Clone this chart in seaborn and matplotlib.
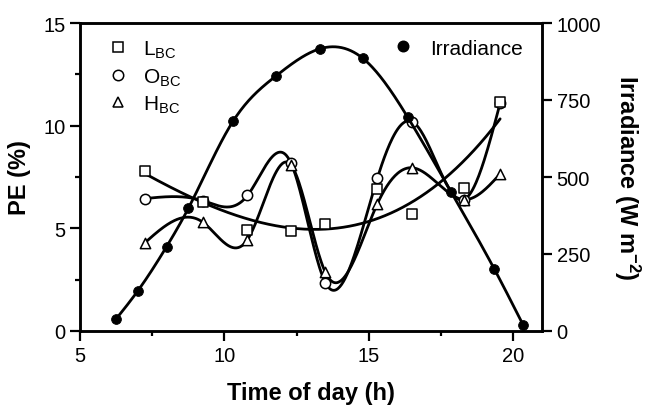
import numpy as np
import pandas as pd
import matplotlib
matplotlib.use('Agg')
import matplotlib.pyplot as plt
import seaborn as sns
from matplotlib.lines import Line2D
from matplotlib.ticker import MultipleLocator

# data
hours_pe = [7.25, 9.25, 10.8, 12.3, 13.5, 15.3, 16.5, 18.3, 19.55]
pe_l = [7.8, 6.3, 4.9, 4.85, 5.2, 6.9, 5.7, 6.95, 11.15]
pe_o = [6.45, 6.35, 6.6, 8.2, 2.35, 7.45, 10.2, 6.4, 11.1]
pe_h = [4.3, 5.3, 4.45, 8.1, 2.85, 6.2, 7.95, 6.4, 7.65]

hours_irr = [6.25, 7.0, 8.0, 8.75, 10.3, 11.8, 13.3, 14.8, 16.35, 17.85, 19.35, 20.35]
irr = [39, 130, 274, 398, 681, 829, 916, 885, 694, 452, 201, 19]


def natural_spline(xk, yk, num=400):
    xk = np.asarray(xk, float)
    yk = np.asarray(yk, float)
    n = len(xk)
    h = np.diff(xk)
    A = np.zeros((n, n))
    b = np.zeros(n)
    A[0, 0] = A[-1, -1] = 1
    for i in range(1, n - 1):
        A[i, i - 1] = h[i - 1]
        A[i, i] = 2 * (h[i - 1] + h[i])
        A[i, i + 1] = h[i]
        b[i] = 6 * ((yk[i + 1] - yk[i]) / h[i] - (yk[i] - yk[i - 1]) / h[i - 1])
    m = np.linalg.solve(A, b)
    xs = np.linspace(xk[0], xk[-1], num)
    idx = np.clip(np.searchsorted(xk, xs) - 1, 0, n - 2)
    x0, x1 = xk[idx], xk[idx + 1]
    hh = x1 - x0
    t0, t1 = x1 - xs, xs - x0
    ys = ((m[idx] * t0 ** 3 + m[idx + 1] * t1 ** 3) / (6 * hh)
          + (yk[idx] / hh - m[idx] * hh / 6) * t0
          + (yk[idx + 1] / hh - m[idx + 1] * hh / 6) * t1)
    return xs, ys


sns.set_theme(style='ticks')
plt.rcParams['font.family'] = ['Liberation Sans', 'DejaVu Sans']
plt.rcParams['mathtext.default'] = 'regular'
plt.rcParams['axes.linewidth'] = 1.6
plt.rcParams['axes.labelcolor'] = 'black'
plt.rcParams['text.color'] = 'black'
for a in ('x', 'y'):
    plt.rcParams[f'{a}tick.major.width'] = 1.6
    plt.rcParams[f'{a}tick.minor.width'] = 1.6
    plt.rcParams[f'{a}tick.major.size'] = 7
    plt.rcParams[f'{a}tick.minor.size'] = 3.5
    plt.rcParams[f'{a}tick.labelsize'] = 14.5
    plt.rcParams[f'{a}tick.color'] = 'black'
    plt.rcParams[f'{a}tick.labelcolor'] = 'black'

fig = plt.figure(figsize=(6.46, 4.06), dpi=100)
ax = fig.add_axes([80 / 646, 74 / 406, 462 / 646, 308 / 406])
ax2 = ax.twinx()

lw = 2.0
# L_BC: cubic polynomial fit
coef = np.polyfit(hours_pe, pe_l, 3)
xl = np.linspace(hours_pe[0], hours_pe[-1], 300)
sns.lineplot(x=xl, y=np.polyval(coef, xl), ax=ax, color='black', lw=lw,
             sort=False, estimator=None)
# O_BC and H_BC: spline connections
for vals in (pe_o, pe_h):
    xs, ys = natural_spline(hours_pe, vals)
    sns.lineplot(x=xs, y=ys, ax=ax, color='black', lw=lw, sort=False, estimator=None)

xi, yi = natural_spline(hours_irr, irr)
sns.lineplot(x=xi, y=yi, ax=ax2, color='black', lw=lw, sort=False, estimator=None)

mk = dict(color='white', edgecolor='black', linewidth=1.1, zorder=5, legend=False)
sns.scatterplot(x=hours_pe, y=pe_o, ax=ax, marker='o', s=55, **mk)
sns.scatterplot(x=hours_pe, y=pe_h, ax=ax, marker='^', s=55, **mk)
sns.scatterplot(x=hours_pe, y=pe_l, ax=ax, marker='s', s=60, **mk)
sns.scatterplot(x=hours_irr, y=irr, ax=ax2, marker='o', s=50, color='black',
                edgecolor='black', zorder=5, legend=False)

ax.set_xlim(5, 21)
ax.set_ylim(0, 15)
ax2.set_ylim(0, 1000)
ax.xaxis.set_major_locator(MultipleLocator(5))
ax.xaxis.set_minor_locator(MultipleLocator(2.5))
ax.yaxis.set_major_locator(MultipleLocator(5))
ax.yaxis.set_minor_locator(MultipleLocator(2.5))
ax2.yaxis.set_major_locator(MultipleLocator(250))

for a in (ax, ax2):
    for s in a.spines.values():
        s.set_color('black')
        s.set_linewidth(1.8)

ax.set_xlabel('Time of day (h)', fontsize=17, fontweight='bold', labelpad=12)
ax.set_ylabel('PE (%)', fontsize=17, fontweight='bold', labelpad=9)
ax2.set_ylabel('Irradiance (W m$^{-2}$)', fontsize=17, fontweight='bold',
               rotation=270, va='bottom', labelpad=8)

def handle(marker, face):
    return Line2D([], [], ls='none', marker=marker, markersize=7.5,
                  markerfacecolor=face, markeredgecolor='black', markeredgewidth=1.1)

ax.legend([handle('s', 'white'), handle('o', 'white'), handle('^', 'white')],
          ['L$_{BC}$', 'O$_{BC}$', 'H$_{BC}$'],
          loc='upper left', bbox_to_anchor=(0.02, 1.01), frameon=False,
          fontsize=15, handlelength=1.0, handletextpad=0.7, labelspacing=0.3)
ax2.legend([handle('o', 'black')], ['Irradiance'], loc='upper right',
           bbox_to_anchor=(1.0, 1.01), frameon=False, fontsize=15,
           handlelength=1.0, handletextpad=0.8)

fig.savefig('out.png', dpi=100)
